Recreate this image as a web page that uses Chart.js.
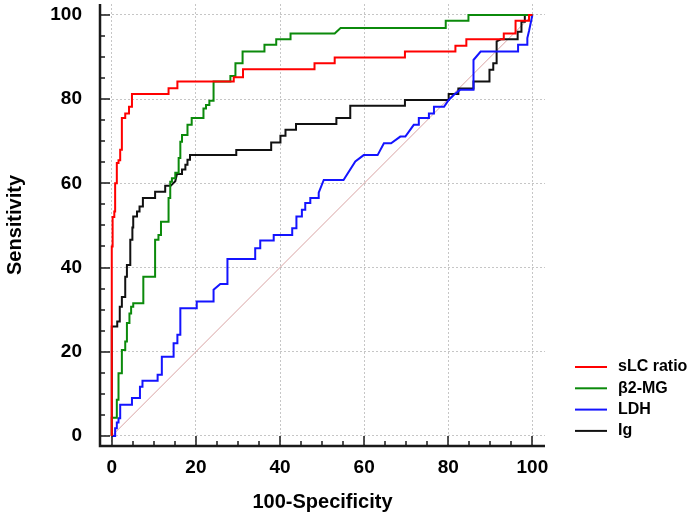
<!DOCTYPE html>
<html>
<head>
<meta charset="utf-8">
<script src="https://cdn.jsdelivr.net/npm/chart.js@4.4.1/dist/chart.umd.min.js"></script>
<style>
  html, body { margin: 0; padding: 0; background: #fff; }
  #box { position: relative; width: 700px; height: 520px; }
</style>
</head>
<body>
<div id="box"><canvas id="roc"></canvas></div>
<script>
// ROC curves: x = 100-Specificity, y = Sensitivity (corner points of each step curve)
var seriesNames = ["sLC ratio", "β2-MG", "LDH", "Ig"];
var seriesColors = ["#ff0000", "#0b8a0b", "#1414ff", "#111111"];

var slcX = [0, 0, 0.2, 0.2, 0.6, 0.6, 0.8, 0.8, 1.2, 1.2, 1.6, 1.6, 2, 2, 2.4, 2.4, 3.2, 3.2, 4.1, 4.1, 4.8, 4.8, 13.5, 13.5, 15.6, 15.6, 29, 29, 31.2, 31.2, 48.2, 48.2, 53, 53, 69.7, 69.7, 81.7, 81.7, 84.3, 84.3, 93.2, 93.2, 96, 96, 99.2, 99.2, 100];
var slcY = [0, 45, 45, 52, 52, 53.3, 53.3, 60, 60, 64.8, 64.8, 65.5, 65.5, 68, 68, 75.5, 75.5, 76.6, 76.6, 78.2, 78.2, 81.2, 81.2, 82.6, 82.6, 84.2, 84.2, 85.2, 85.2, 87.1, 87.1, 88.5, 88.5, 89.9, 89.9, 91.3, 91.3, 92.7, 92.7, 94.2, 94.2, 95.6, 95.6, 98.6, 98.6, 100, 100];

var b2mgX = [0, 0, 1.2, 1.2, 1.6, 1.6, 2.4, 2.4, 3.2, 3.2, 3.6, 3.6, 4.2, 4.2, 4.6, 4.6, 5.1, 5.1, 7.5, 7.5, 10.3, 10.3, 11.1, 11.1, 11.7, 11.7, 13.5, 13.5, 13.9, 13.9, 14.3, 14.3, 15.1, 15.1, 15.9, 15.9, 16.3, 16.3, 16.7, 16.7, 18, 18, 19, 19, 21.8, 21.8, 22.4, 22.4, 23.2, 23.2, 24.2, 24.2, 28.2, 28.2, 29.4, 29.4, 31.1, 31.1, 36.3, 36.3, 39.1, 39.1, 42.5, 42.5, 53, 54.4, 79.4, 79.4, 84.8, 84.8, 100];
var b2mgY = [0, 4.3, 4.3, 8.6, 8.6, 14.9, 14.9, 20.4, 20.4, 22.4, 22.4, 26.8, 26.8, 29.1, 29.1, 30.7, 30.7, 31.5, 31.5, 37.8, 37.8, 46.6, 46.6, 47.7, 47.7, 50.9, 50.9, 56.5, 56.5, 60.4, 60.4, 61.2, 61.2, 62.5, 62.5, 66, 66, 69.9, 69.9, 71.5, 71.5, 73.9, 73.9, 75.5, 75.5, 77.8, 77.8, 78.6, 78.6, 79.6, 79.6, 84.2, 84.2, 85.5, 85.5, 88.5, 88.5, 91.3, 91.3, 92.9, 92.9, 94.2, 94.2, 95.6, 95.6, 96.9, 96.9, 98.6, 98.6, 100, 100];

var ldhX = [0, 0.8, 0.8, 1.2, 1.2, 1.6, 1.6, 2, 2, 4.8, 4.8, 6.7, 6.7, 7.3, 7.3, 10.9, 10.9, 11.9, 11.9, 14.7, 14.7, 15.6, 15.6, 16.3, 16.3, 20.2, 20.2, 24.2, 24.2, 25.8, 27.5, 27.5, 34.1, 34.1, 35.3, 35.3, 38.5, 38.5, 42.9, 42.9, 43.9, 43.9, 45.2, 45.2, 46, 46, 47.2, 47.2, 49.2, 49.2, 50.4, 55.1, 57.9, 59.9, 63.2, 64.7, 66.4, 68.6, 69.8, 71.8, 73, 73, 75.4, 75.4, 76.6, 76.6, 79, 80.1, 81.3, 82.8, 86, 86, 87.7, 96.6, 96.6, 98.8, 98.8, 99.2, 100];
var ldhY = [0, 0, 1.8, 1.8, 3.2, 3.2, 4.2, 4.2, 7.4, 7.4, 9, 9, 11.7, 11.7, 13.1, 13.1, 14.5, 14.5, 18.8, 18.8, 22, 22, 24, 24, 30.3, 30.3, 31.9, 31.9, 34.7, 36.1, 36.1, 42, 42, 44.6, 44.6, 46.4, 46.4, 47.7, 47.7, 49.3, 49.3, 52.1, 52.1, 53.7, 53.7, 55.3, 55.3, 56.5, 56.5, 57.8, 60.8, 60.8, 65.2, 66.7, 66.7, 69.5, 69.5, 71.1, 71.1, 73.9, 73.9, 75.5, 75.5, 76.6, 76.6, 78.2, 78.2, 79.8, 81, 82.2, 82.2, 89.3, 91.3, 91.3, 92.9, 92.9, 94.5, 96.2, 100];

var igX = [0, 0, 1.3, 1.3, 1.9, 1.9, 2.4, 2.4, 3.2, 3.2, 3.6, 3.6, 4.4, 4.4, 4.9, 4.9, 5.1, 5.1, 6, 6, 6.6, 6.6, 7.4, 7.4, 10.3, 10.3, 12.7, 12.7, 14, 15.1, 15.5, 16.7, 16.7, 17.5, 17.5, 18, 18, 18.6, 18.6, 29.6, 29.6, 37.9, 37.9, 40.1, 40.1, 41.3, 41.3, 43.8, 43.8, 53.4, 53.4, 56.7, 56.7, 69.7, 69.7, 80.1, 80.1, 82.4, 82.4, 86, 86, 89.8, 89.8, 90.7, 90.7, 91.5, 91.5, 92.5, 96.5, 96.5, 97.4, 97.4, 98.2, 98.2, 100];
var igY = [0, 26, 26, 27.2, 27.2, 30.7, 30.7, 33, 33, 37.8, 37.8, 40.6, 40.6, 46.6, 46.6, 49.5, 49.5, 52.1, 52.1, 53.3, 53.3, 54.5, 54.5, 56.5, 56.5, 58, 58, 59.4, 59.4, 60.5, 62.2, 62.2, 63.3, 63.3, 64.4, 64.4, 65.6, 65.6, 66.7, 66.7, 67.9, 67.9, 69.7, 69.7, 71.3, 71.3, 72.7, 72.7, 74.1, 74.1, 75.5, 75.5, 78.4, 78.4, 79.8, 79.8, 81.2, 81.2, 82.5, 82.5, 84.2, 84.2, 87, 87, 88.5, 88.5, 93.7, 94.2, 94.2, 96, 96, 98.4, 98.4, 100, 100];

var refX = [0, 100];
var refY = [0, 100];

var tickValues = [0, 20, 40, 60, 80, 100];
var minorStep = 5;

var fontFamily = '"Liberation Sans", Arial, sans-serif';

function toPoints(xs, ys) {
  return xs.map(function (x, i) { return { x: x, y: ys[i] }; });
}

function curve(i, xs, ys) {
  return {
    label: seriesNames[i],
    data: toPoints(xs, ys),
    showLine: true,
    borderColor: seriesColors[i],
    backgroundColor: seriesColors[i],
    borderWidth: 2,
    pointRadius: 0,
    tension: 0
  };
}

// solid axis lines + tick marks pointing inward (long at labels, short every 5)
var axisFrame = {
  id: 'axisFrame',
  afterDraw: function (chart) {
    var ctx = chart.ctx, sx = chart.scales.x, sy = chart.scales.y, area = chart.chartArea;
    ctx.save();
    ctx.strokeStyle = '#1a1a1a';
    ctx.lineWidth = 2.5;
    ctx.beginPath();
    ctx.moveTo(area.left, area.top);
    ctx.lineTo(area.left, area.bottom);
    ctx.lineTo(area.right, area.bottom);
    ctx.stroke();
    ctx.lineWidth = 1.5;
    for (var v = 0; v <= 100; v += minorStep) {
      var len = tickValues.indexOf(v) >= 0 ? 10 : 5;
      var px = Math.round(sx.getPixelForValue(v));
      var py = Math.round(sy.getPixelForValue(v));
      ctx.beginPath();
      ctx.moveTo(px, area.bottom);
      ctx.lineTo(px, area.bottom - len);
      ctx.moveTo(area.left, py);
      ctx.lineTo(area.left + len, py);
      ctx.stroke();
    }
    ctx.restore();
  }
};

var sideLegend = {
  id: 'sideLegend',
  afterDraw: function (chart) {
    var ctx = chart.ctx;
    ctx.save();
    ctx.font = 'bold 16px ' + fontFamily;
    ctx.textBaseline = 'middle';
    seriesNames.forEach(function (name, i) {
      var y = 367 + i * 21.3;
      ctx.strokeStyle = seriesColors[i];
      ctx.lineWidth = 2;
      ctx.beginPath();
      ctx.moveTo(575, y);
      ctx.lineTo(607, y);
      ctx.stroke();
      ctx.fillStyle = '#000';
      ctx.fillText(name, 618, y);
    });
    ctx.restore();
  }
};

var ctx = document.getElementById("roc").getContext('2d');

var roc = new Chart(ctx, {
  type: 'scatter',
  data: {
    datasets: [
      curve(0, slcX, slcY),
      curve(1, b2mgX, b2mgY),
      curve(2, ldhX, ldhY),
      curve(3, igX, igY),
      {
        label: 'reference',
        data: toPoints(refX, refY),
        showLine: true,
        borderColor: '#d9a3a3',
        borderWidth: 1,
        pointRadius: 0
      }
    ]
  },
  options: {
    responsive: true,
    maintainAspectRatio: false,
    animation: false,
    layout: { padding: { top: 4, right: 155, left: 0, bottom: 0 } },
    plugins: {
      legend: { display: false },
      tooltip: { enabled: false }
    },
    scales: {
      x: {
        type: 'linear',
        min: -2.8,
        max: 103,
        afterBuildTicks: function (axis) { axis.ticks = tickValues.map(function (v) { return { value: v }; }); },
        afterFit: function (axis) { axis.height = 74; axis.paddingLeft = 0; axis.paddingRight = 0; },
        grid: { color: '#c6c6c6', lineWidth: 1, drawTicks: false },
        border: { display: false, dash: [2, 2] },
        ticks: { color: '#000', padding: 10, maxRotation: 0, autoSkip: false, font: { family: fontFamily, size: 19, weight: 'bold' } },
        title: { display: true, text: '100-Specificity', color: '#000', padding: { top: 0, bottom: 6 }, font: { family: fontFamily, size: 20, weight: 'bold' } }
      },
      y: {
        type: 'linear',
        min: -2.4,
        max: 102.6,
        afterBuildTicks: function (axis) { axis.ticks = tickValues.map(function (v) { return { value: v }; }); },
        afterFit: function (axis) { axis.width = 100; axis.paddingTop = 0; axis.paddingBottom = 0; },
        grid: { color: '#c6c6c6', lineWidth: 1, drawTicks: false },
        border: { display: false, dash: [2, 2] },
        ticks: { color: '#000', padding: 18, autoSkip: false, font: { family: fontFamily, size: 19, weight: 'bold' } },
        title: { display: true, text: 'Sensitivity', color: '#000', padding: { top: 3, bottom: 0 }, font: { family: fontFamily, size: 20, weight: 'bold' } }
      }
    }
  },
  plugins: [axisFrame, sideLegend]
});
</script>
</body>
</html>
